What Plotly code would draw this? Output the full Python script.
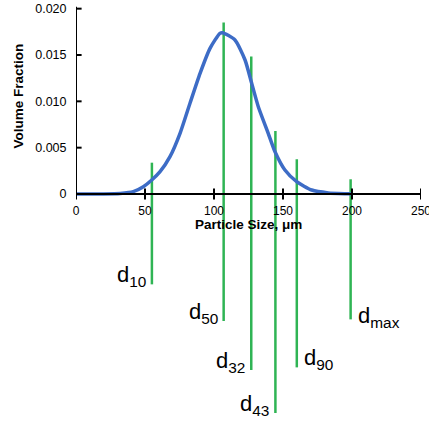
import plotly.graph_objects as go

# ---- data ----
size_um = [0, 20, 32, 41.5, 48.8, 54.9, 60.9, 68.1, 75.4, 82.6, 89.9, 97.1, 104.3, 106.2,
           115.2, 122.5, 127.3, 132.1, 139.3, 144.2, 151.4, 159.9, 170.8, 182.8, 197.3, 200]
vol_frac = [0, 0.00001, 0.00006, 0.00025, 0.00079, 0.00151, 0.00241, 0.00403, 0.00655,
            0.00979, 0.01302, 0.01572, 0.01734, 0.01741, 0.01662, 0.01446, 0.01195, 0.00942,
            0.00655, 0.00456, 0.00259, 0.00133, 0.00043, 0.00012, 0.00002, 0]

d_labels = ["d<sub>10</sub>", "d<sub>50</sub>", "d<sub>32</sub>", "d<sub>43</sub>",
            "d<sub>90</sub>", "d<sub>max</sub>"]
d_pos = [55, 107, 127, 144.5, 160, 199]
d_top = [0.00338, 0.0185, 0.01483, 0.0068, 0.00375, 0.00159]
d_bottom = [-0.00975, -0.01371, -0.0190, -0.02362, -0.01871, -0.01353]

x_ticks = [0, 50, 100, 150, 200, 250]
y_ticks = [0, 0.005, 0.010, 0.015, 0.020]
y_tick_text = ["0", "0.005", "0.010", "0.015", "0.020"]

# ---- style ----
FONT = "Arial, Liberation Sans, sans-serif"
BLUE = "#3d6cc6"
GREEN = "#2fb454"
label_side = ["left", "left", "left", "left", "right", "right"]
label_yshift = [0, 0, 0, 0, 0, -6]

fig = go.Figure()

for xp, yt, yb in zip(d_pos, d_top, d_bottom):
    fig.add_trace(go.Scatter(x=[xp, xp], y=[yb, yt], mode="lines",
                             line=dict(color=GREEN, width=2.5), hoverinfo="skip"))

fig.add_trace(go.Scatter(x=size_um, y=vol_frac, mode="lines",
                         line=dict(color=BLUE, width=3.5, shape="spline", smoothing=0.6)))

# crossing tick marks
fig.add_trace(go.Scatter(x=x_ticks, y=[0] * len(x_ticks), mode="markers",
                         marker=dict(symbol="line-ns", size=8, line=dict(color="black", width=2))))
fig.add_trace(go.Scatter(x=[0] * len(y_ticks), y=y_ticks, mode="markers",
                         marker=dict(symbol="line-ew", size=8, line=dict(color="black", width=2))))

# y axis line
fig.add_shape(type="line", x0=0, x1=0, y0=0, y1=0.0202, xref="x", yref="y",
              line=dict(color="black", width=2))

for txt, xp, yb, side, ys in zip(d_labels, d_pos, d_bottom, label_side, label_yshift):
    fig.add_annotation(x=xp, y=yb, xref="x", yref="y", text=txt, showarrow=False,
                       xanchor="right" if side == "left" else "left",
                       xshift=-4 if side == "left" else 5,
                       yanchor="bottom", yshift=-8 + ys,
                       font=dict(family=FONT, size=22, color="black"))

fig.add_annotation(x=-0.168, y=0.01052, xref="paper", yref="y", text="<b>Volume Fraction</b>",
                   textangle=-90, showarrow=False, xanchor="center", yanchor="middle",
                   font=dict(family=FONT, size=13.5, color="black"))

fig.add_annotation(x=125, y=0, xref="x", yref="y", text="<b>Particle Size, μm</b>",
                   showarrow=False, yanchor="middle", yshift=-30,
                   font=dict(family=FONT, size=13.5, color="black"))

px_per_unit = 139 / 0.015
y_top = 194 / px_per_unit
y_bot = -(422 - 194) / px_per_unit

fig.update_layout(
    width=429, height=422, autosize=False,
    margin=dict(l=76, r=8, t=0, b=0, autoexpand=False),
    paper_bgcolor="white", plot_bgcolor="white",
    showlegend=False,
    font=dict(family=FONT, color="black"),
    xaxis=dict(range=[0, 250], showgrid=False, zeroline=False, anchor="free",
               position=1 - 194 / 422, showline=True, linecolor="black", linewidth=2,
               tickvals=x_ticks, ticks="outside", ticklen=6, tickcolor="rgba(0,0,0,0)",
               tickfont=dict(size=12, family=FONT), automargin=False,
               ticklabeloverflow="allow"),
    yaxis=dict(range=[y_bot, y_top], showgrid=False, zeroline=False, showline=False,
               tickvals=y_ticks, ticktext=y_tick_text, ticks="outside", ticklen=6,
               tickcolor="rgba(0,0,0,0)", tickfont=dict(size=12.5, family=FONT),
               automargin=False, ticklabeloverflow="allow"),
)

fig.write_html("out.html", config={"displayModeBar": False},
               post_script="document.body.style.margin='0';document.body.style.overflow='hidden';")
